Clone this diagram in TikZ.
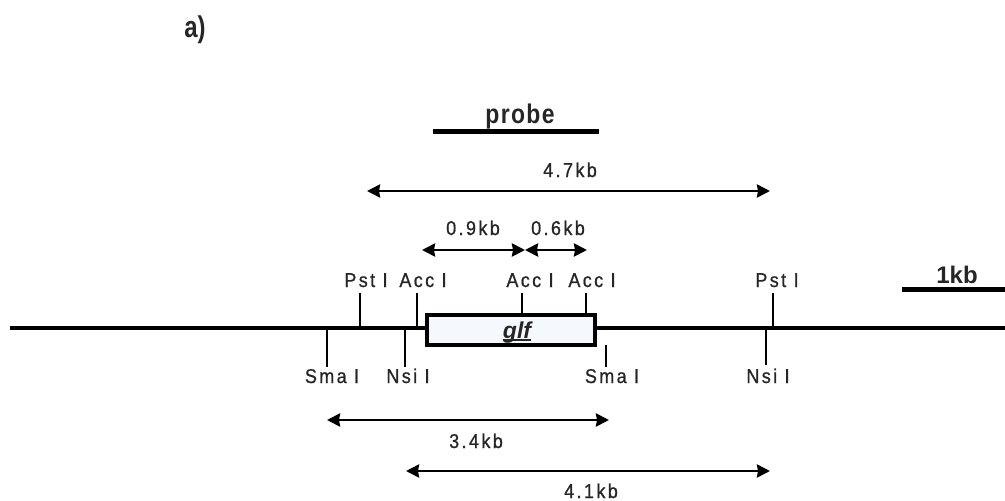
\documentclass[tikz,border=0pt]{standalone}
\usepackage{fontspec}
\setmainfont{Liberation Sans}
\newfontfamily\lbl[FakeStretch=0.9,LetterSpace=12,FakeBold=0.8]{Liberation Sans}
\newfontfamily\lblb[FakeStretch=0.85,LetterSpace=5]{Liberation Sans}
\newfontfamily\narrowf[FakeStretch=0.8]{Liberation Sans}
\usetikzlibrary{arrows.meta}
\begin{document}
\begin{tikzpicture}[x=1pt,y=-1pt,
  dna/.style={line width=4pt},
  site/.style={line width=2.6pt},
  bar/.style={line width=5pt},
  span/.style={line width=2.8pt,{Stealth[length=13pt,width=13pt,inset=1pt]}-{Stealth[length=13pt,width=13pt,inset=1pt]}},
  lab/.style={font=\lbl\fontsize{20}{22}\selectfont, anchor=base, inner sep=0pt, text=black!85},
  big/.style={font=\lblb\bfseries\fontsize{27}{30}\selectfont, anchor=base, inner sep=0pt, text=black!85},
  gene/.style={draw, line width=4pt, fill={rgb,255:red,245;green,248;blue,252}, minimum width=168pt, minimum height=30pt, inner sep=0pt}
]
\useasboundingbox (0,0) rectangle (1005,501);

% main DNA line
\coordinate (L) at (10,328);
\coordinate (R) at (1005,328);
\draw[dna] (L) -- (R);

% gene box
\node[gene] (glf) at (511,330) {};
\node[font=\bfseries\itshape\fontsize{23}{25}\selectfont, anchor=base, inner sep=0pt, text=black!85] (glft) at (517,338) {glf};
\draw[line width=1.4pt, black!85] ([yshift=-2pt]glft.base west) -- ([yshift=-2pt]glft.base east);

% upper sites
\coordinate (pst1t) at (360,293); \coordinate (pst1b) at (360,328);
\coordinate (acc1t) at (417,293); \coordinate (acc1b) at (417,328);
\coordinate (acc2t) at (522,293); \coordinate (acc2b) at (522,315);
\coordinate (acc3t) at (586,293); \coordinate (acc3b) at (586,315);
\coordinate (pst2t) at (773,293); \coordinate (pst2b) at (773,328);
\draw[site] (pst1t) -- (pst1b);
\draw[site] (acc1t) -- (acc1b);
\draw[site] (acc2t) -- (acc2b);
\draw[site] (acc3t) -- (acc3b);
\draw[site] (pst2t) -- (pst2b);

% lower sites
\coordinate (sma1t) at (327,328); \coordinate (sma1b) at (327,367);
\coordinate (nsi1t) at (405,328); \coordinate (nsi1b) at (405,367);
\coordinate (sma2t) at (606,345); \coordinate (sma2b) at (606,367);
\coordinate (nsi2t) at (766,328); \coordinate (nsi2b) at (766,365);
\draw[site] (sma1t) -- (sma1b);
\draw[site] (nsi1t) -- (nsi1b);
\draw[site] (sma2t) -- (sma2b);
\draw[site] (nsi2t) -- (nsi2b);

% site labels
\node[lab] (lpst1) at (366,287) {Pst I};
\node[lab] (lacc1) at (423,287) {Acc I};
\node[lab] (lacc2) at (530,287) {Acc I};
\node[lab] (lacc3) at (592,287) {Acc I};
\node[lab] (lpst2) at (777,287) {Pst I};
\node[lab] (lsma1) at (332,383) {Sma I};
\node[lab] (lnsi1) at (408,383) {Nsi I};
\node[lab] (lsma2) at (612,383) {Sma I};
\node[lab] (lnsi2) at (768,383) {Nsi I};

% probe
\coordinate (pa) at (433,131); \coordinate (pb) at (599,131);
\draw[bar] (pa) -- (pb);
\node[big] (probe) at (520,123) {probe};

% fragments
\coordinate (f47a) at (367,191); \coordinate (f47b) at (770,191);
\draw[span] (f47a) -- (f47b);
\node[lab] (l47) at (570,177) {4.7kb};

\coordinate (f09a) at (422,250); \coordinate (f09b) at (525,250);
\coordinate (f06b) at (587,250);
\draw[span] (f09a) -- (f09b);
\draw[span] (f09b) -- (f06b);
\node[lab] (l09) at (473,235) {0.9kb};
\node[lab] (l06) at (558,235) {0.6kb};

\coordinate (f34a) at (327,420); \coordinate (f34b) at (609,420);
\draw[span] (f34a) -- (f34b);
\node[lab] (l34) at (476,448) {3.4kb};

\coordinate (f41a) at (406,471); \coordinate (f41b) at (770,471);
\draw[span] (f41a) -- (f41b);
\node[lab] (l41) at (591,498) {4.1kb};

% scale bar
\coordinate (sa) at (902,289); \coordinate (sb) at (1005,289);
\draw[bar] (sa) -- (sb);
\node[font=\bfseries\fontsize{24}{26}\selectfont, anchor=base, inner sep=0pt, text=black!85] (kb) at (957,283) {1kb};

% panel label
\node[font=\narrowf\bfseries\fontsize{30}{32}\selectfont, anchor=base, inner sep=0pt, text=black!85] (panel) at (195,37) {a)};
\end{tikzpicture}
\end{document}
